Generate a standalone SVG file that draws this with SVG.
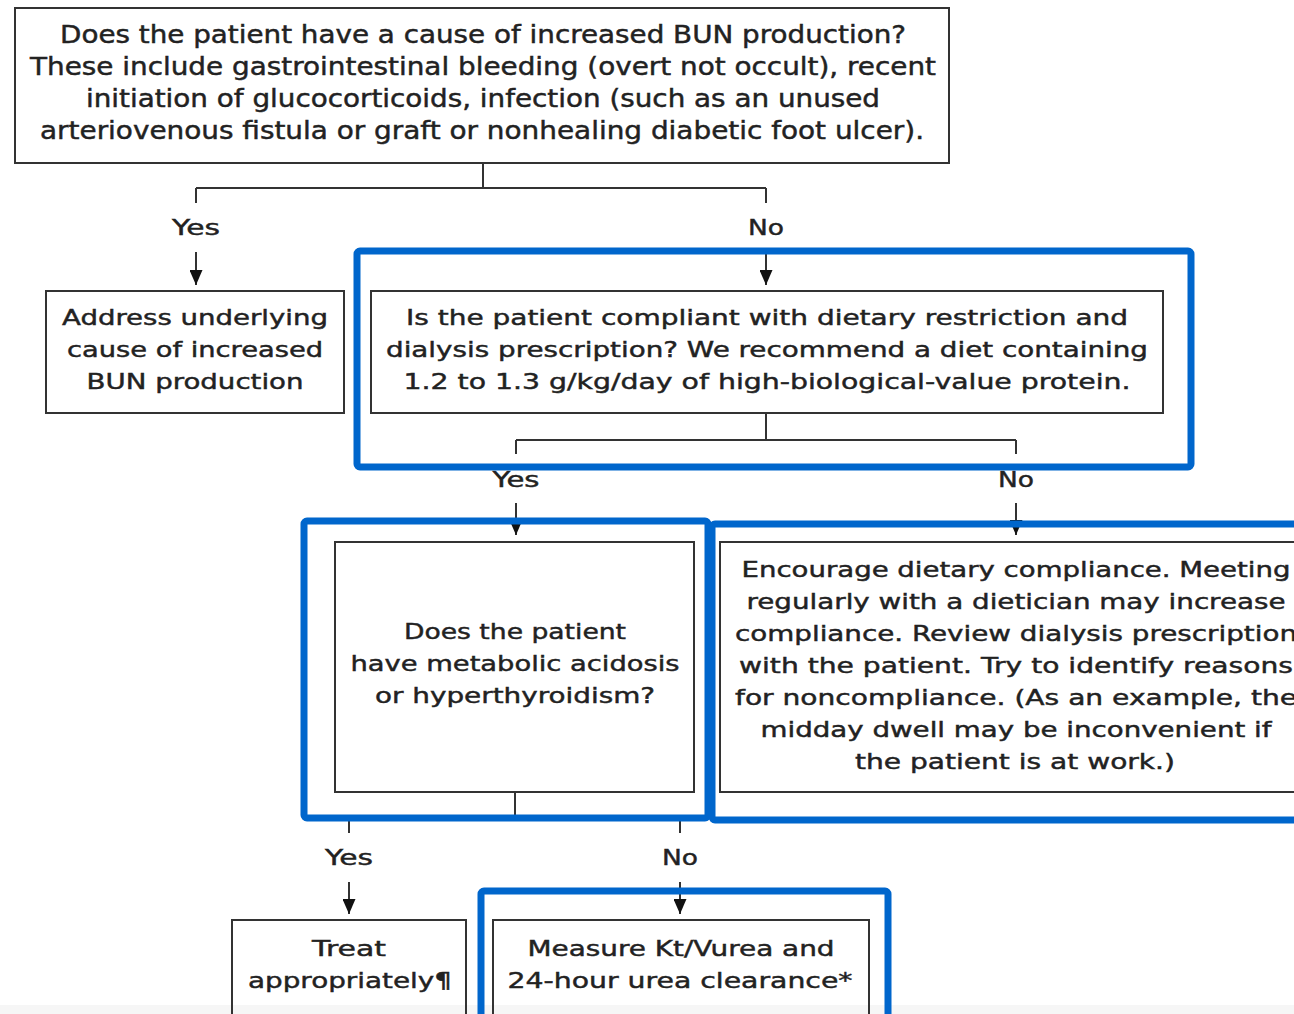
<svg xmlns="http://www.w3.org/2000/svg" width="1294" height="1014" viewBox="0 0 1294 1014">
  <style>
    .box { fill: none; stroke: #333; stroke-width: 2; }
    .wire { fill: none; stroke: #333; stroke-width: 2; }
    .hl { fill: none; stroke: #0066cc; stroke-width: 7; }
    text { font-family: "DejaVu Sans", Verdana, sans-serif; fill: #222; stroke: #222; stroke-width: 0.45; text-anchor: middle; }
    .t { font-size: 22px; }
    .tc { font-size: 24px; }
    .lbl { font-size: 22px; }
  </style>
  <defs>
    <marker id="arrow" markerUnits="userSpaceOnUse" markerWidth="15" markerHeight="13" refX="15" refY="6.5" orient="auto">
      <path d="M0,0 L15,6.5 L0,13 z" fill="#111"/>
    </marker>
  </defs>

  <rect x="0" y="0" width="1294" height="1014" fill="#fff"/>
  <rect x="0" y="1005" width="1294" height="9" fill="#f6f6f6"/>

  <!-- flow lines -->
  <g id="connectors">
    <path class="wire" d="M483,163 V188 M196,188 H766 M196,188 V203 M766,188 V203"/>
    <line class="wire" x1="196" y1="252" x2="196" y2="285" marker-end="url(#arrow)"/>
    <line class="wire" x1="766" y1="252" x2="766" y2="285" marker-end="url(#arrow)"/>
    <text class="lbl" x="196" y="235" textLength="48" lengthAdjust="spacingAndGlyphs">Yes</text>
    <text class="lbl" x="766" y="235" textLength="36" lengthAdjust="spacingAndGlyphs">No</text>

    <path class="wire" d="M766,413 V440 M516,440 H1016 M516,440 V454 M1016,440 V454"/>
    <line class="wire" x1="516" y1="503" x2="516" y2="535" marker-end="url(#arrow)"/>
    <line class="wire" x1="1016" y1="503" x2="1016" y2="535" marker-end="url(#arrow)"/>
    <text class="lbl" x="516" y="487" textLength="47" lengthAdjust="spacingAndGlyphs">Yes</text>
    <text class="lbl" x="1016" y="487" textLength="36" lengthAdjust="spacingAndGlyphs">No</text>

    <path class="wire" d="M515,792 V818 M349,818 H680 M349,818 V833 M680,818 V833"/>
    <line class="wire" x1="349" y1="882" x2="349" y2="914" marker-end="url(#arrow)"/>
    <line class="wire" x1="680" y1="882" x2="680" y2="914" marker-end="url(#arrow)"/>
    <text class="lbl" x="349" y="865" textLength="48" lengthAdjust="spacingAndGlyphs">Yes</text>
    <text class="lbl" x="680" y="865" textLength="36" lengthAdjust="spacingAndGlyphs">No</text>
  </g>

  <g id="increased-bun">
    <rect class="box" x="15" y="8" width="934" height="155"/>
    <text class="tc" x="483" y="43" textLength="846" lengthAdjust="spacingAndGlyphs">Does the patient have a cause of increased BUN production?</text>
    <text class="tc" x="483" y="75" textLength="906" lengthAdjust="spacingAndGlyphs">These include gastrointestinal bleeding (overt not occult), recent</text>
    <text class="tc" x="483" y="107" textLength="794" lengthAdjust="spacingAndGlyphs">initiation of glucocorticoids, infection (such as an unused</text>
    <text class="tc" x="482" y="139" textLength="884" lengthAdjust="spacingAndGlyphs">arteriovenous fistula or graft or nonhealing diabetic foot ulcer).</text>
  </g>

  <g id="address-cause">
    <rect class="box" x="46" y="291" width="298" height="122"/>
    <text class="t" x="195" y="325" textLength="266" lengthAdjust="spacingAndGlyphs">Address underlying</text>
    <text class="t" x="195" y="357" textLength="256" lengthAdjust="spacingAndGlyphs">cause of increased</text>
    <text class="t" x="195" y="389" textLength="217" lengthAdjust="spacingAndGlyphs">BUN production</text>
  </g>

  <g id="compliance">
    <rect class="box" x="371" y="291" width="792" height="122"/>
    <text class="t" x="767" y="325" textLength="722" lengthAdjust="spacingAndGlyphs">Is the patient compliant with dietary restriction and</text>
    <text class="t" x="767" y="357" textLength="762" lengthAdjust="spacingAndGlyphs">dialysis prescription? We recommend a diet containing</text>
    <text class="t" x="767" y="389" textLength="727" lengthAdjust="spacingAndGlyphs">1.2 to 1.3 g/kg/day of high-biological-value protein.</text>
  </g>

  <g id="acidosis">
    <rect class="box" x="335" y="542" width="359" height="250"/>
    <text class="t" x="515" y="639" textLength="222" lengthAdjust="spacingAndGlyphs">Does the patient</text>
    <text class="t" x="515" y="671" textLength="329" lengthAdjust="spacingAndGlyphs">have metabolic acidosis</text>
    <text class="t" x="515" y="703" textLength="280" lengthAdjust="spacingAndGlyphs">or hyperthyroidism?</text>
  </g>

  <g id="encourage">
    <rect class="box" x="720" y="542" width="594" height="250"/>
    <text class="t" x="1016" y="577" textLength="549" lengthAdjust="spacingAndGlyphs">Encourage dietary compliance. Meeting</text>
    <text class="t" x="1016" y="609" textLength="539" lengthAdjust="spacingAndGlyphs">regularly with a dietician may increase</text>
    <text class="t" x="1016" y="641" textLength="562" lengthAdjust="spacingAndGlyphs">compliance. Review dialysis prescription</text>
    <text class="t" x="1016" y="673" textLength="554" lengthAdjust="spacingAndGlyphs">with the patient. Try to identify reasons</text>
    <text class="t" x="1016" y="705" textLength="562" lengthAdjust="spacingAndGlyphs">for noncompliance. (As an example, the</text>
    <text class="t" x="1016" y="737" textLength="511" lengthAdjust="spacingAndGlyphs">midday dwell may be inconvenient if</text>
    <text class="t" x="1015" y="769" textLength="320" lengthAdjust="spacingAndGlyphs">the patient is at work.)</text>
  </g>

  <g id="treat">
    <rect class="box" x="232" y="920" width="234" height="110"/>
    <text class="t" x="349" y="956" textLength="74" lengthAdjust="spacingAndGlyphs">Treat</text>
    <text class="t" x="350" y="988" textLength="204" lengthAdjust="spacingAndGlyphs">appropriately¶</text>
  </g>

  <g id="measure">
    <rect class="box" x="493" y="920" width="376" height="110"/>
    <text class="t" x="681" y="956" textLength="307" lengthAdjust="spacingAndGlyphs">Measure Kt/Vurea and</text>
    <text class="t" x="680" y="988" textLength="345" lengthAdjust="spacingAndGlyphs">24-hour urea clearance*</text>
  </g>

  <!-- blue highlight frames -->
  <g id="highlights">
    <rect class="hl" x="357" y="251" width="834" height="216" rx="3"/>
    <rect class="hl" x="304" y="521" width="404" height="297" rx="3"/>
    <rect class="hl" x="712" y="524" width="600" height="296" rx="3"/>
    <rect class="hl" x="481" y="891" width="407" height="140" rx="3"/>
  </g>
</svg>
